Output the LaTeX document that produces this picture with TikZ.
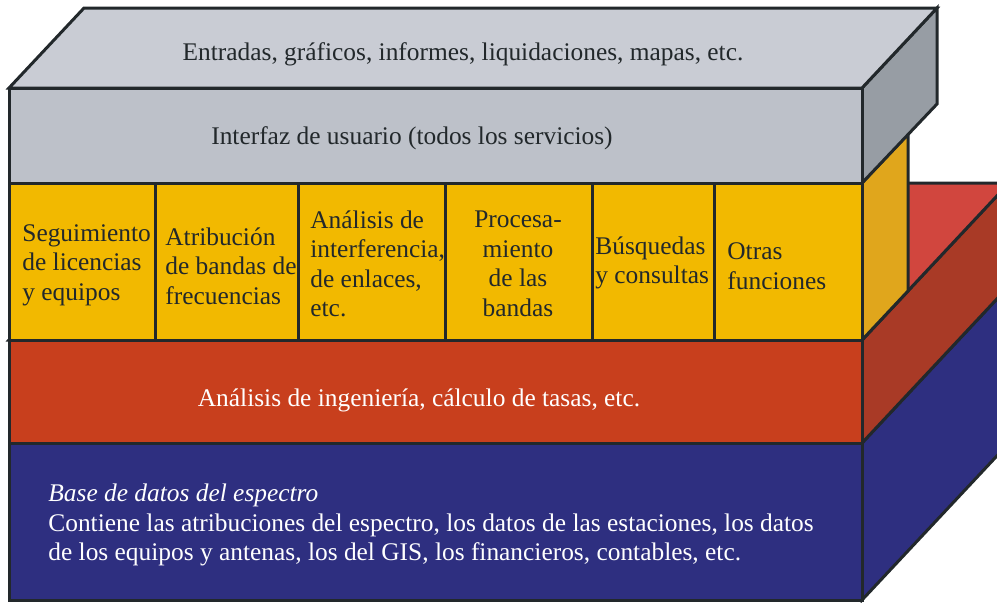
\documentclass[tikz,border=0pt]{standalone}
\usepackage{fontspec}
\setmainfont{Liberation Serif}
\newlength{\EdgeWidth}
\setlength{\EdgeWidth}{1.5pt}
\newcommand{\layerfont}{\fontsize{12.7}{14.75}\selectfont}
\definecolor{edgeline}{HTML}{22282B}
\definecolor{ink}{HTML}{22282B}
\definecolor{graytop}{HTML}{C9CCD4}
\definecolor{grayfront}{HTML}{BDC1C9}
\definecolor{grayside}{HTML}{979DA4}
\definecolor{yellowfront}{HTML}{F2B900}
\definecolor{yellowside}{HTML}{E0A61C}
\definecolor{redfront}{HTML}{C83F1D}
\definecolor{redtop}{HTML}{D1463E}
\definecolor{redside}{HTML}{A93A26}
\definecolor{bluefront}{HTML}{2E2F80}
\tikzset{
  face/.style={draw=edgeline, line width=\EdgeWidth, line join=miter},
  layer text/.style={inner sep=0pt, font=\layerfont, text=ink},
  cell text/.style={layer text, align=left, anchor=west},
}

\begin{document}
\begin{tikzpicture}[x=0.5pt, y=-0.5pt]
  \useasboundingbox (0,0) rectangle (997,602);
  \clip (0,0) rectangle (997,602);

  % faces seen from the side and from above
  \filldraw[face, fill=bluefront] (862,443) -- (1009,286) -- (1009,443) -- (862,600) -- cycle;
  \filldraw[face, fill=redside] (862,340) -- (1009,183) -- (1009,286) -- (862,443) -- cycle;
  \filldraw[face, fill=redtop] (9,340) -- (862,340) -- (1009,183) -- (156,183) -- cycle;
  \filldraw[face, fill=yellowside] (862,183) -- (908,134) -- (908,291) -- (862,340) -- cycle;
  \filldraw[face, fill=grayside] (862,88) -- (937,8) -- (937,104) -- (862,183) -- cycle;
  \filldraw[face, fill=graytop] (9,88) -- (862,88) -- (937,8) -- (84,8) -- cycle;

  % front faces
  \filldraw[face, fill=grayfront] (9,88) rectangle (862,183);
  \filldraw[face, fill=yellowfront] (9,183) rectangle (862,340);
  \foreach \x in {155,298,445,592,714}
    \draw[face] (\x,183) -- (\x,340);
  \filldraw[face, fill=redfront] (9,340) rectangle (862,443);
  \filldraw[face, fill=bluefront] (9,443) rectangle (862,600);

  % texts
  \node[layer text] (entradas) at (463,54) {Entradas, gráficos, informes, liquidaciones, mapas, etc.};
  \node[layer text] (interfaz) at (412,138) {Interfaz de usuario (todos los servicios)};

  \node[cell text] (seguimiento) at (22,265) {Seguimiento\\de licencias\\y equipos};
  \node[cell text] (atribucion) at (165,266) {Atribución\\de bandas de\\frecuencias};
  \node[cell text] (interferencia) at (310,264) {Análisis de\\interferencia,\\de enlaces,\\etc.};
  \node[layer text, align=center] (procesamiento) at (518,264) {Procesa-\\miento\\de las\\bandas};
  \node[cell text] (busquedas) at (595,263) {Búsquedas\\y consultas};
  \node[cell text] (otras) at (727,266) {Otras\\funciones};

  \node[layer text, text=white] (ingenieria) at (419,400) {Análisis de ingeniería, cálculo de tasas, etc.};
  \node[cell text, text=white] (basedatos) at (48,525) {\textit{Base de datos del espectro}\\Contiene las atribuciones del espectro, los datos de las estaciones, los datos\\de los equipos y antenas, los del GIS, los financieros, contables, etc.};
\end{tikzpicture}
\end{document}
